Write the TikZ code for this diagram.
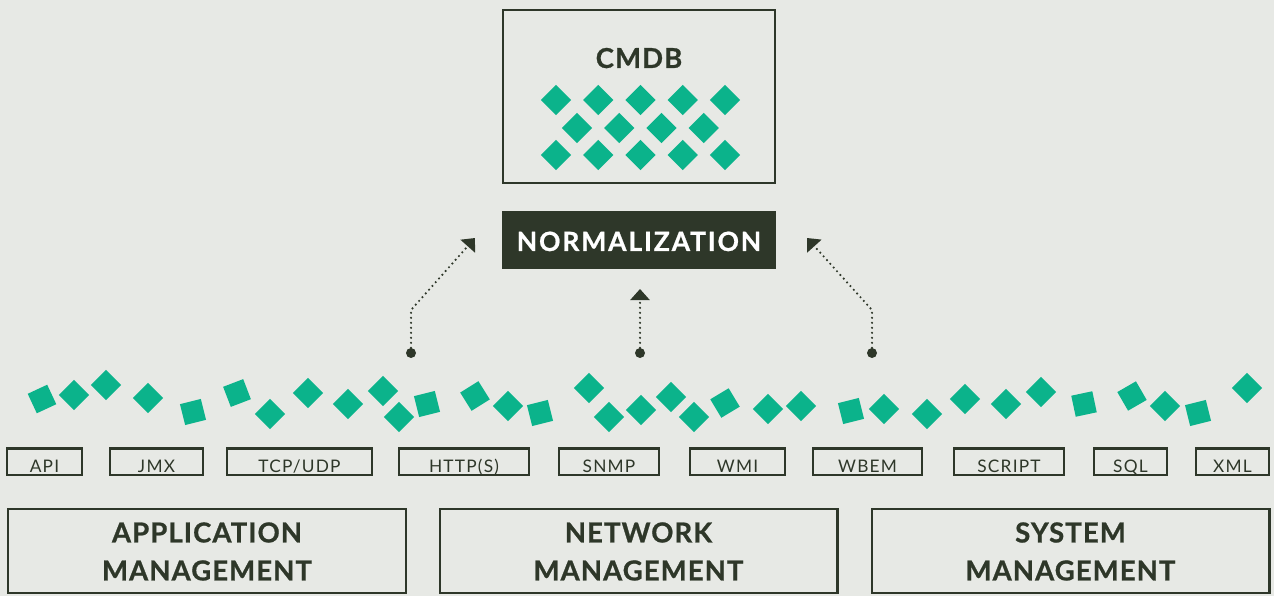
\documentclass[tikz,border=0pt]{standalone}
\usepackage{fontspec}
\setmainfont{Lato}
\newfontfamily\protofont{Lato}[LetterSpace=7]
\newfontfamily\headfont{Lato}[LetterSpace=4, BoldFeatures={FakeBold=0.8}]
\newfontfamily\normfont{Lato}[LetterSpace=7, BoldFeatures={FakeBold=0.8}]
\usetikzlibrary{arrows.meta}
\definecolor{bgc}{HTML}{E7E9E5}
\definecolor{darkc}{HTML}{2E3729}
\definecolor{tealc}{HTML}{0BB38B}
\tikzset{
  frame/.style={draw=darkc, line width=2.4pt, fill=none, inner sep=0pt},
  proto/.style={draw=darkc, line width=2.5pt, minimum height=26.5pt, inner sep=0pt,
    text height=21pt, text depth=0pt, text=darkc, font=\protofont\fontsize{17.3}{19}\selectfont},
  bigbox/.style={draw=darkc, line width=2.4pt, minimum width=397.6pt, minimum height=83.6pt, inner sep=0pt},
  bigtext/.style={align=center, text=darkc, inner sep=0pt, font=\headfont\bfseries\fontsize{27.5}{38}\selectfont},
  sq/.style={fill=tealc, draw=none, minimum size=21.5pt, inner sep=0pt, shape=rectangle},
  startdot/.style={circle, fill=darkc, minimum size=10pt, inner sep=0pt},
  conn/.style={draw=darkc, line width=2.4pt, dash pattern=on 0pt off 5pt, line cap=round,
    -{Triangle[length=11pt,width=19pt]}},
}
\begin{document}
\begin{tikzpicture}[x=1pt,y=-1pt]
\fill[bgc] (0,0) rectangle (1274,596);
\useasboundingbox (0,0) rectangle (1274,596);

% CMDB
\node[frame, minimum width=271.6pt, minimum height=172.6pt] (cmdb) at (639,96.5) {};
\node[text=darkc, inner sep=0pt, text height=20pt, text depth=0pt,
  font=\headfont\bfseries\fontsize{27.5}{30}\selectfont] (cmdbt) at (639,58) {CMDB};
\foreach \i in {0,...,4}{
  \node[sq, rotate=45] (ca\i) at (556+42.25*\i,100) {};
  \node[sq, rotate=45] (cc\i) at (556+42.25*\i,155) {};
}
\foreach \i in {0,...,3}{
  \node[sq, rotate=45] (cb\i) at (577+42.25*\i,128) {};
}

% Normalization
\node[fill=darkc, minimum width=274pt, minimum height=58pt, inner sep=0pt,
  text=white, text height=22pt, text depth=0pt,
  font=\normfont\bfseries\fontsize{26.5}{28}\selectfont] (norm) at (639,240) {NORMALIZATION};

% arrows
\node[startdot] (d1) at (411,353) {};
\node[startdot] (d2) at (640,353) {};
\node[startdot] (d3) at (872,353) {};
\coordinate (b1) at (411,310);
\coordinate (b3) at (872,310);
\coordinate (t1) at (475,238);
\coordinate (t2) at (640,289);
\coordinate (t3) at (807,238);
\draw[conn] (d1) -- (b1) -- (t1);
\draw[conn] (d2) -- (t2);
\draw[conn] (d3) -- (b3) -- (t3);

% scattered squares
\foreach \n/\x/\y/\r in {
  1/42/399/25, 2/74/395/45, 3/106/385/45, 4/148/398/45, 5/193/412/14,
  6/237/393/21, 7/270/414/45, 8/308/393/45, 9/348/404/45, 10/383/391/45,
  11/399/417/45, 12/427/404/14, 13/475/396/32, 14/508/406/45, 15/540/413/14,
  16/589/388/45, 17/609/417/45, 18/641/410/45, 19/671/397/45, 20/694/417/45,
  21/725/403/31, 22/768/409/45, 23/801/406/45, 24/851/411/14, 25/884/409/45,
  26/927/414/45, 27/965/399/45, 28/1006/404/45, 29/1041/392/45, 30/1084/404/12,
  31/1132/396/30, 32/1165/406/45, 33/1198/413/14, 34/1247/388/45}{
  \node[sq, rotate=\r] (s\n) at (\x,\y) {};
}

% protocol boxes
\node[proto, minimum width=75pt]  (api)  at (44.5,461.5)  {API};
\node[proto, minimum width=93pt]  (jmx)  at (156.5,461.5) {JMX};
\node[proto, minimum width=145pt] (tcp)  at (299.5,461.5) {TCP/UDP};
\node[proto, minimum width=130pt] (http) at (464,461.5)   {HTTP(S)};
\node[proto, minimum width=100pt] (snmp) at (609,461.5)   {SNMP};
\node[proto, minimum width=95pt]  (wmi)  at (737.5,461.5) {WMI};
\node[proto, minimum width=109pt] (wbem) at (867.5,461.5) {WBEM};
\node[proto, minimum width=110pt] (scr)  at (1009,461.5)  {SCRIPT};
\node[proto, minimum width=73pt]  (sql)  at (1130.5,461.5){SQL};
\node[proto, minimum width=73pt]  (xml)  at (1232.5,461.5){XML};

% bottom boxes
\node[bigbox] (app) at (207,551) {};
\node[bigbox] (net) at (638.5,551) {};
\node[bigbox] (sys) at (1070.5,551) {};
\node[bigtext] (appt) at (207,551.5) {APPLICATION\\MANAGEMENT};
\node[bigtext] (nett) at (638.5,551.5) {NETWORK\\MANAGEMENT};
\node[bigtext] (syst) at (1070.5,551.5) {SYSTEM\\MANAGEMENT};
\end{tikzpicture}
\end{document}
